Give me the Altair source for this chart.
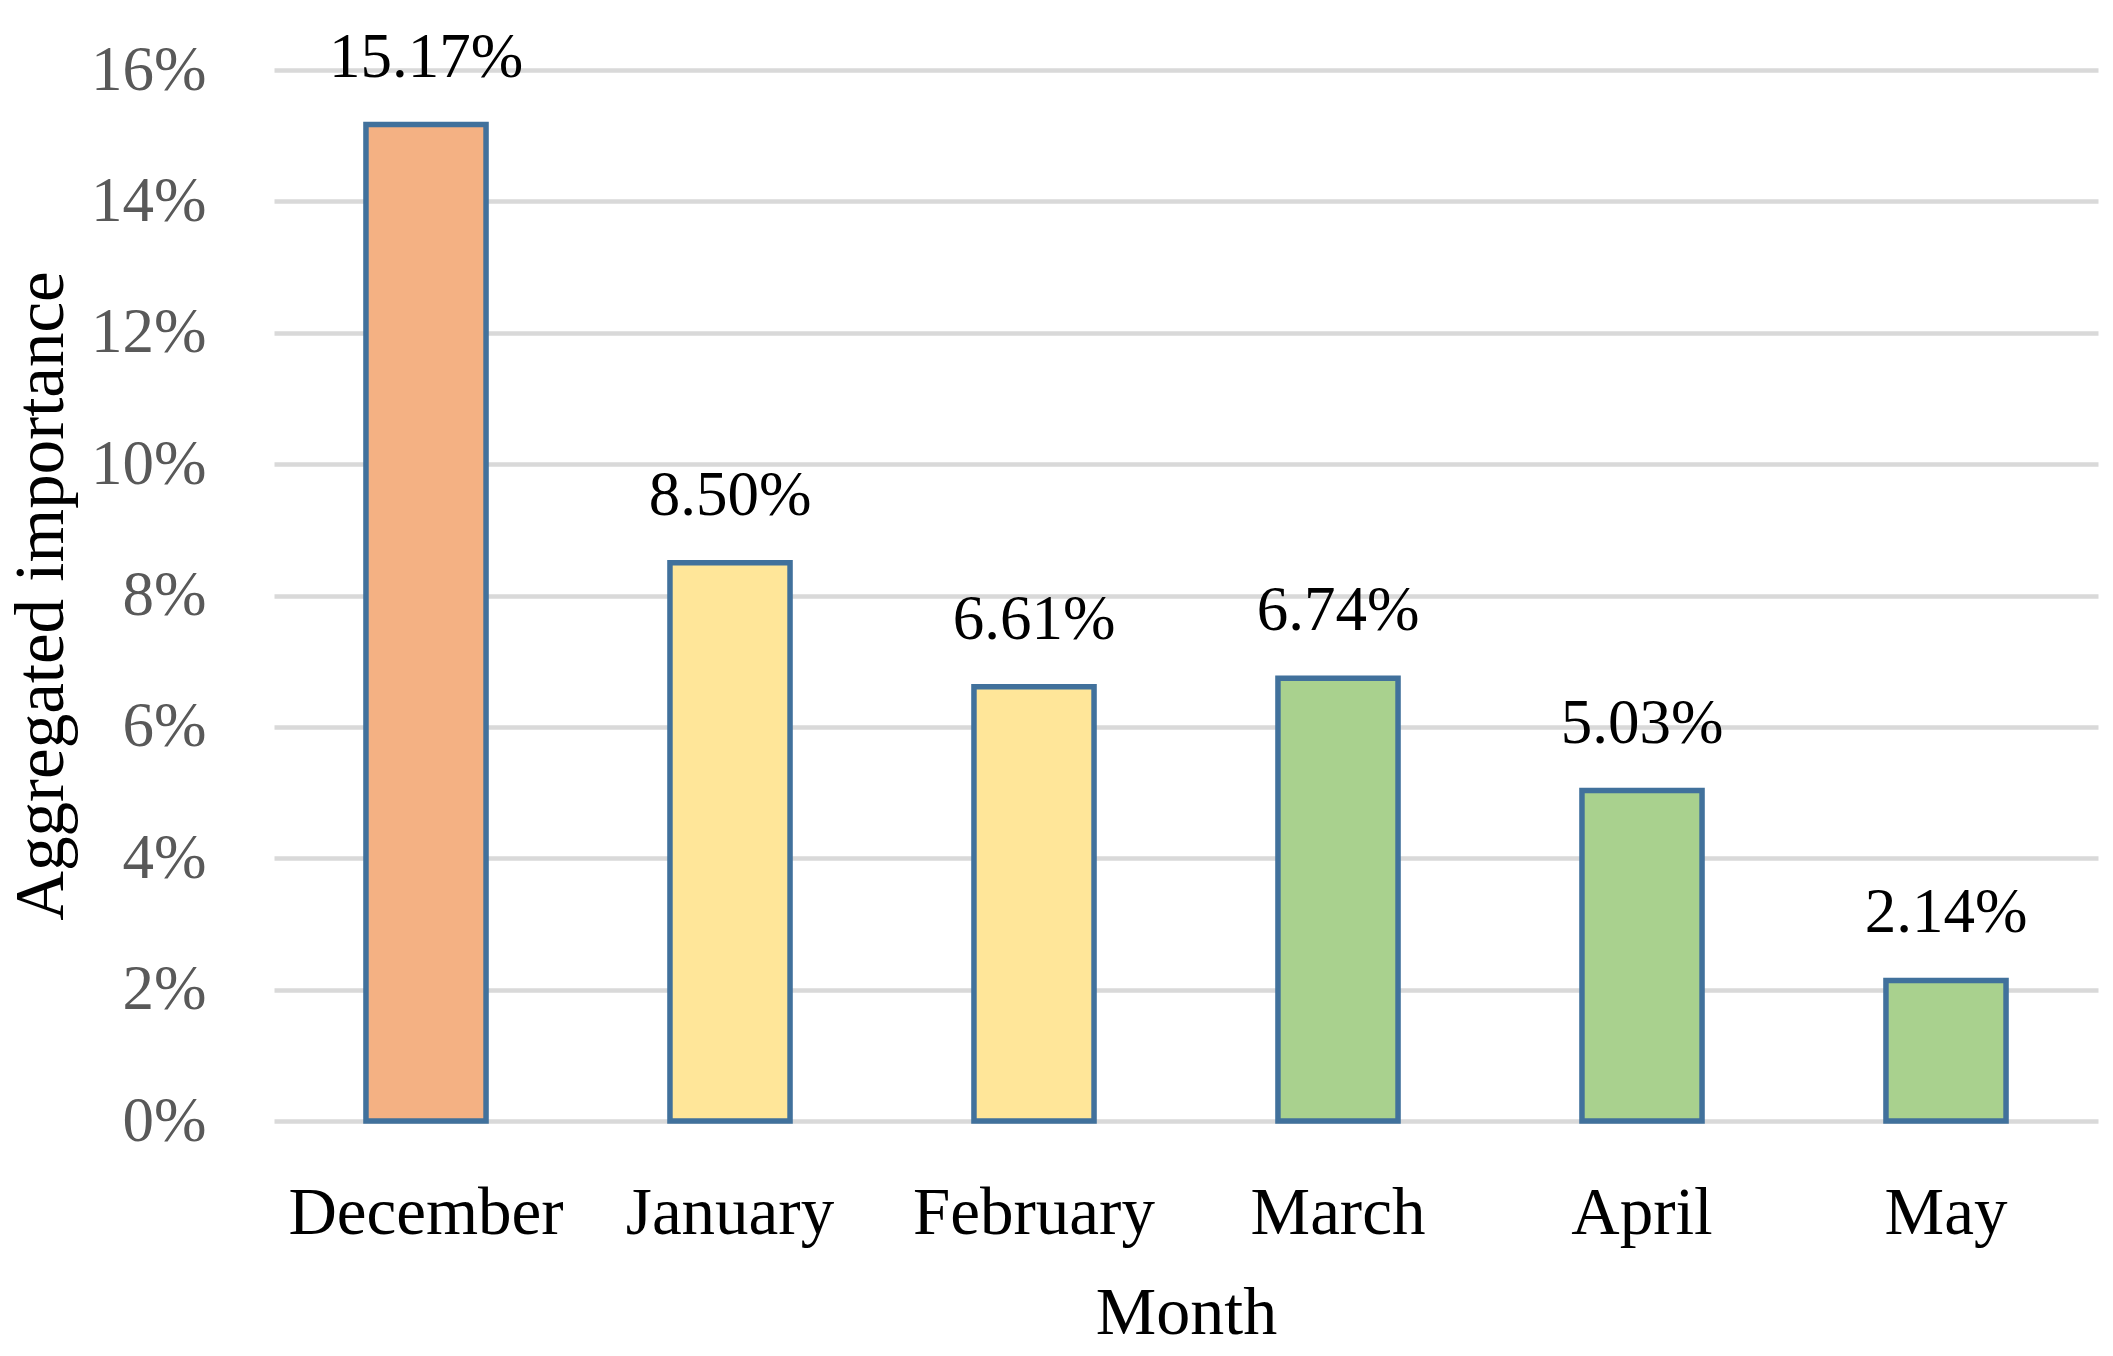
import altair as alt
import pandas as pd

months = ["December", "January", "February", "March", "April", "May"]
values = [15.17, 8.50, 6.61, 6.74, 5.03, 2.14]
groups = ["winter_early", "winter_mid", "winter_mid", "spring", "spring", "spring"]
group_colors = ["#F4B183", "#FFE699", "#A9D18E"]
group_names = ["winter_early", "winter_mid", "spring"]
y_ticks = [0, 2, 4, 6, 8, 10, 12, 14, 16]

df = pd.DataFrame({"Month": months, "Value": values, "Group": groups})
df["Label"] = [f"{v:.2f}%" for v in values]

FONT = "Liberation Serif"

base = alt.Chart(df)

bars = base.mark_bar(stroke="#41719C", strokeWidth=5.5).encode(
    x=alt.X("Month:N", sort=months, title="Month",
            scale=alt.Scale(paddingInner=0.605, paddingOuter=0.3025),
            axis=alt.Axis(labelAngle=0, domain=False, ticks=False, labelLimit=0,
                          labelFont=FONT, labelFontSize=67, labelColor="#000000",
                          labelBaseline="alphabetic", labelPadding=112,
                          titleFont=FONT, titleFontSize=68, titleFontWeight="normal",
                          titleColor="#000000", titleBaseline="alphabetic", titleY=212)),
    y=alt.Y("Value:Q", title="Aggregated importance",
            scale=alt.Scale(domain=[0, 16], nice=False),
            axis=alt.Axis(values=y_ticks, labelExpr="datum.value + '%'",
                          domain=False, ticks=False, grid=True,
                          gridColor="#D9D9D9", gridWidth=4.5,
                          labelFont=FONT, labelFontSize=63, labelColor="#595959",
                          labelPadding=68, titleLimit=0,
                          titleFont=FONT, titleFontSize=69, titleFontWeight="normal",
                          titleColor="#000000", titleBaseline="top",
                          titleX=-267, titleY=525.5, titleAngle=-90)),
    color=alt.Color("Group:N", scale=alt.Scale(domain=group_names, range=group_colors),
                    legend=None),
)

labels = base.mark_text(font=FONT, fontSize=63, color="#000000",
                        baseline="alphabetic", dy=-48).encode(
    x=alt.X("Month:N", sort=months),
    y=alt.Y("Value:Q"),
    text="Label:N",
)

chart = (bars + labels).properties(
    width=1824, height=1051,
    autosize=alt.AutoSizeParams(type="none"),
    padding={"left": 266, "top": 62, "right": 7, "bottom": 220},
).configure_view(stroke=None).configure_axis(gridCap="butt")

chart.save("out.html", embed_options={"renderer": "svg", "actions": False})
